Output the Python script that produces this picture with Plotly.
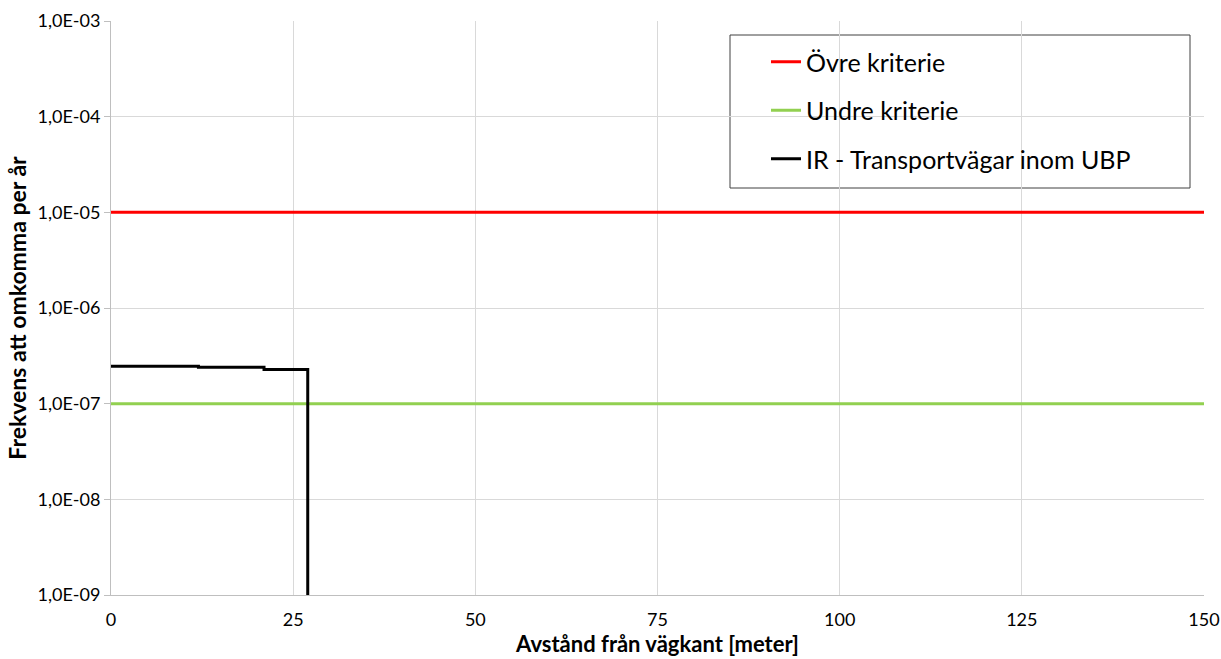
import plotly.graph_objects as go

# Distance from road edge [m] and individual risk per year
distance_ir = [0, 12, 21, 27]
risk_ir = [2.46e-7, 2.40e-7, 2.28e-7, 1e-12]

criteria_x = [0, 150]
upper_criterion = [1e-5, 1e-5]
lower_criterion = [1e-7, 1e-7]

y_tickvals = [1e-9, 1e-8, 1e-7, 1e-6, 1e-5, 1e-4, 1e-3]
y_ticktext = ["1,0E-09", "1,0E-08", "1,0E-07", "1,0E-06", "1,0E-05", "1,0E-04", "1,0E-03"]
x_tickvals = [0, 25, 50, 75, 100, 125, 150]

font_family = "Lato, 'Open Sans', sans-serif"

fig = go.Figure()
fig.add_trace(go.Scatter(x=criteria_x, y=upper_criterion, mode="lines",
                         name="Övre kriterie", legendgroup="a",
                         line=dict(color="#FF0000", width=3)))
fig.add_trace(go.Scatter(x=criteria_x, y=lower_criterion, mode="lines",
                         name="Undre kriterie", legendgroup="b",
                         line=dict(color="#92D050", width=3)))
fig.add_trace(go.Scatter(x=distance_ir, y=risk_ir, mode="lines", line_shape="hv",
                         name="IR - Transportvägar inom UBP", legendgroup="c",
                         line=dict(color="#000000", width=3)))

L, R, T, B = 111, 1204, 21, 595
pw, ph = R - L, B - T

# legend frame
fig.add_shape(type="rect", xref="paper", yref="paper",
              x0=(730 - L) / pw, x1=(1190 - L) / pw,
              y0=(B - 188) / ph, y1=(B - 35) / ph,
              line=dict(color="#404040", width=1), fillcolor="white", layer="below")

fig.update_layout(
    width=1221, height=659,
    margin=dict(l=L, r=1221 - R, t=T, b=659 - B),
    plot_bgcolor="white", paper_bgcolor="white",
    font=dict(family=font_family, color="#000000"),
    showlegend=True,
    legend=dict(x=(766 - L) / pw, y=(B - 39) / ph, xanchor="left", yanchor="top",
                bgcolor="rgba(0,0,0,0)", borderwidth=0,
                font=dict(size=25, family=font_family),
                traceorder="grouped", tracegroupgap=13, itemwidth=30),
    xaxis=dict(range=[0, 150], tickvals=x_tickvals, showgrid=True, gridcolor="#D9D9D9",
               gridwidth=1, showline=True, linecolor="#BFBFBF", zeroline=False,
               tickfont=dict(size=18), ticks="outside", ticklen=8, tickcolor="rgba(0,0,0,0)",
               automargin=False,
               title=dict(text="<b>Avstånd från vägkant [meter]</b>", font=dict(size=22), standoff=8)),
    yaxis=dict(type="log", range=[-9, -3], tickvals=y_tickvals, ticktext=y_ticktext,
               showgrid=True, gridcolor="#D9D9D9", gridwidth=1, showline=True,
               linecolor="#BFBFBF", ticks="outside", ticklen=6, tickcolor="#BFBFBF",
               tickfont=dict(size=18), zeroline=False, automargin=False,
               title=dict(text="<b>Frekvens att omkomma per år</b>", font=dict(size=23), standoff=4)),
)

fig.write_html("out.html")
